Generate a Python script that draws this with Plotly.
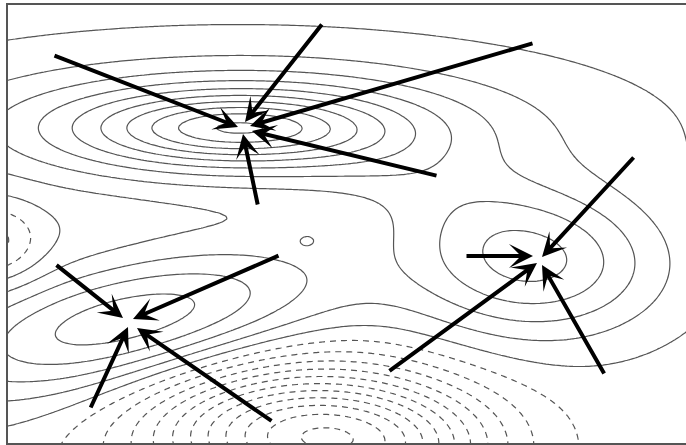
import numpy as np
import plotly.graph_objects as go

# --- field components (pixel-like data coordinates, y grows downward) ---
comp_names = ["A", "B", "E", "C", "D", "D2", "ridge", "bump"]
comp_x     = [237, 127, 533, -5, 295, 400, 450, 307]
comp_y     = [128, 322, 266, 242, 434, 452, 200, 240]
comp_amp   = [9.6, 5.2, 4.3, -2.2, -9.0, -3.5, 1.0, 0.8]
comp_sx    = [114, 144, 91, 30, 105, 80, 100, 9]
comp_sy    = [27, 44, 53, 26, 48, 45, 40, 6]
comp_ang   = [0, -12, 0, 0, 0, 0, 20, 0]
comp_kind  = ["X", "G", "G", "G", "G", "G", "G", "G"]
sea_level = -0.5

# --- arrows: tail (ax, ay) -> head (hx, hy) ---
arrow_tail_x = [53, 323, 534, 438, 258, 55, 280, 90, 273, 635, 465, 388, 605]
arrow_tail_y = [55, 23, 43, 176, 206, 264, 255, 409, 422, 156, 256, 372, 375]
arrow_head_x = [238, 245, 250, 252, 243, 123, 133, 128, 137, 542, 533, 537, 542]
arrow_head_y = [127, 122, 126, 131, 134, 318, 319, 327, 328, 257, 256, 263, 265]

xs = np.arange(0, 690, 3.0)
ys = np.arange(0, 448, 3.0)
X, Y = np.meshgrid(xs, ys)
Z = np.full_like(X, sea_level)
for cx, cy, a, sx, sy, ang, kind in zip(comp_x, comp_y, comp_amp, comp_sx, comp_sy, comp_ang, comp_kind):
    t = np.deg2rad(ang)
    dx, dy = X - cx, Y - cy
    u = dx * np.cos(t) + dy * np.sin(t)
    v = -dx * np.sin(t) + dy * np.cos(t)
    q = (u / sx) ** 2 + (v / sy) ** 2
    if kind == "X":
        Z += a * np.exp(1 - np.sqrt(1 + q))
    else:
        Z += a * np.exp(-q / 2)

grey = [[0, "#555555"], [1, "#555555"]]
fig = go.Figure()
fig.add_trace(go.Contour(x=xs, y=ys, z=Z, colorscale=grey, showscale=False,
                         contours=dict(coloring="lines", start=0, end=20, size=1),
                         line=dict(width=1.2, smoothing=1.0), hoverinfo="skip"))
fig.add_trace(go.Contour(x=xs, y=ys, z=Z, colorscale=grey, showscale=False,
                         contours=dict(coloring="lines", start=-20, end=-1, size=1),
                         line=dict(width=1.2, dash="6px,5px", smoothing=1.0), hoverinfo="skip"))

for tx, ty, hx, hy in zip(arrow_tail_x, arrow_tail_y, arrow_head_x, arrow_head_y):
    fig.add_annotation(x=hx, y=hy, ax=tx, ay=ty, xref="x", yref="y", axref="x", ayref="y",
                       text="", showarrow=True, arrowhead=3, arrowsize=1.0, arrowwidth=4,
                       arrowcolor="black", standoff=0)

fig.update_xaxes(range=[8, 686], showgrid=False, zeroline=False, showticklabels=False, ticks="",
                 showline=True, linecolor="#555555", linewidth=2, mirror=True)
fig.update_yaxes(range=[443, 5], showgrid=False, zeroline=False, showticklabels=False, ticks="",
                 showline=True, linecolor="#555555", linewidth=2, mirror=False)
fig.update_layout(width=686, height=445, margin=dict(l=8, r=0, t=5, b=2),
                  paper_bgcolor="white", plot_bgcolor="white", showlegend=False)
fig.write_html("out.html", config={"displayModeBar": False},
               post_script="document.body.style.margin='0';")
